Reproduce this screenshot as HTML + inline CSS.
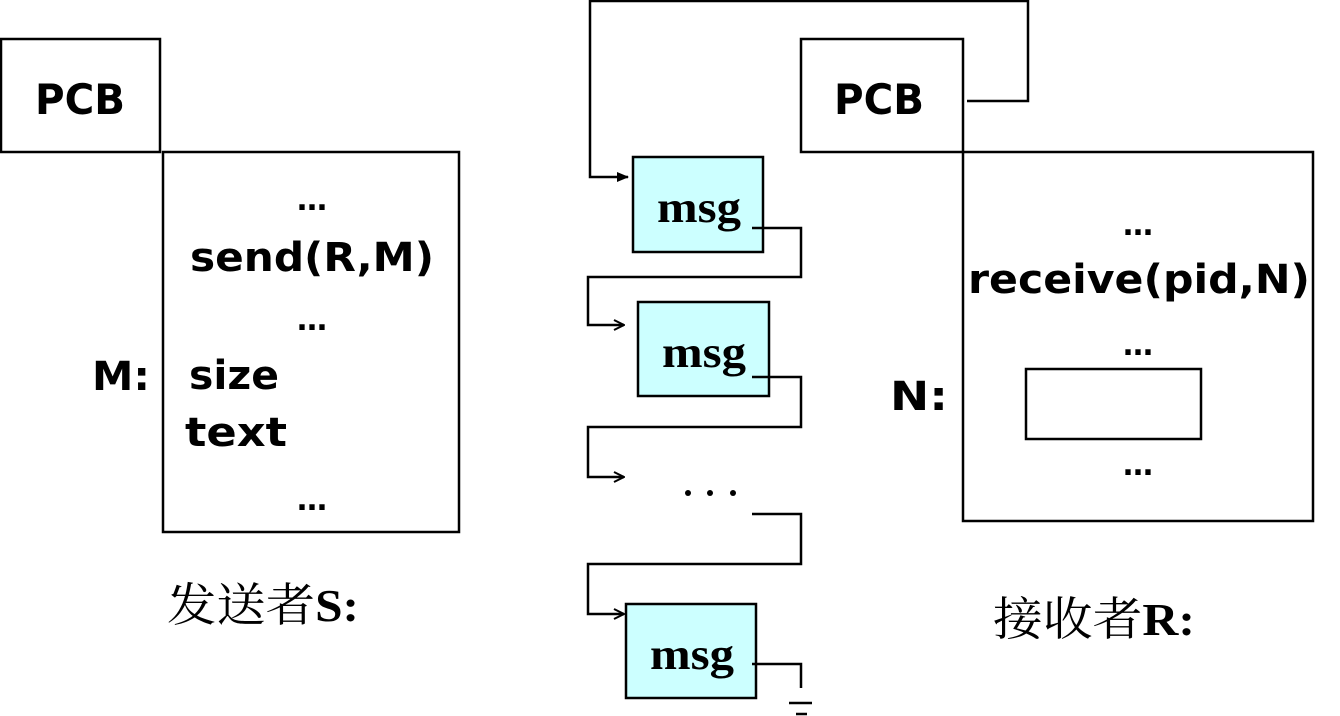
<!DOCTYPE html>
<html><head><meta charset="utf-8"><style>
html,body{margin:0;padding:0;background:#fff;}
svg{display:block;}
.c{font-family:"DejaVu Sans","Liberation Sans",sans-serif;font-weight:bold;fill:#000;}
.t{font-family:"Liberation Serif",serif;font-weight:bold;fill:#000;}
</style></head><body>
<svg width="1340" height="716" viewBox="0 0 1340 716" xmlns="http://www.w3.org/2000/svg">
<defs>
<marker id="a" markerWidth="12" markerHeight="12" refX="11" refY="6" orient="auto" markerUnits="userSpaceOnUse">
<path d="M1,1 L11,6 L1,11" fill="none" stroke="#000" stroke-width="2"/>
</marker>
<marker id="f" markerWidth="12" markerHeight="12" refX="11" refY="6" orient="auto" markerUnits="userSpaceOnUse">
<path d="M0,1 L12,6 L0,11 z" fill="#000"/>
</marker>
</defs>
<g fill="none" stroke="#000" stroke-width="2.5">
<rect x="1" y="39" width="159" height="113"/>
<rect x="163" y="152" width="296" height="380"/>
<rect x="801" y="39" width="162" height="113"/>
<path d="M963 152 H1313 V521 H963 Z"/>
<rect x="1026" y="369" width="175" height="70"/>
</g>
<g fill="#ccffff" stroke="#000" stroke-width="2.5">
<rect x="633" y="157" width="130" height="95"/>
<rect x="638" y="302" width="131" height="94"/>
<rect x="626" y="604" width="130" height="94"/>
</g>
<g fill="none" stroke="#000" stroke-width="2.5">
<path d="M967 101 H1028 V1 H590 V177 H628" marker-end="url(#f)"/>
<path d="M752 228 H801 V277 H588 V325 H624" marker-end="url(#a)"/>
<path d="M752 377 H801 V427 H588 V477 H624" marker-end="url(#a)"/>
<path d="M752 514 H801 V564 H588 V614 H624" marker-end="url(#a)"/>
<path d="M752 664 H801 V688"/>
<path d="M789 703 H812 M796 714 H807"/>
</g>
<g fill="#000"><circle cx="688" cy="493" r="3"/><circle cx="710" cy="493" r="3"/><circle cx="733" cy="493" r="3"/></g>
<text class="c" x="35" y="114" font-size="42" textLength="90" lengthAdjust="spacingAndGlyphs">PCB</text>
<text class="c" x="834" y="114" font-size="42" textLength="90" lengthAdjust="spacingAndGlyphs">PCB</text>
<text class="c" x="297" y="210" font-size="30">…</text>
<text class="c" x="190" y="271" font-size="40" textLength="244" lengthAdjust="spacingAndGlyphs">send(R,M)</text>
<text class="c" x="297" y="330" font-size="30">…</text>
<text class="c" x="92" y="390" font-size="40" textLength="58" lengthAdjust="spacingAndGlyphs">M:</text>
<text class="c" x="189" y="389" font-size="40" textLength="90" lengthAdjust="spacingAndGlyphs">size</text>
<text class="c" x="185" y="446" font-size="40" textLength="102" lengthAdjust="spacingAndGlyphs">text</text>
<text class="c" x="297" y="510" font-size="30">…</text>
<text class="c" x="1123" y="235" font-size="30">…</text>
<text class="c" x="968" y="293" font-size="40" textLength="342" lengthAdjust="spacingAndGlyphs">receive(pid,N)</text>
<text class="c" x="1123" y="355" font-size="30">…</text>
<text class="c" x="890" y="410" font-size="40" textLength="58" lengthAdjust="spacingAndGlyphs">N:</text>
<text class="c" x="1123" y="475" font-size="30">…</text>
<text class="t" x="657" y="222" font-size="44" textLength="84" lengthAdjust="spacingAndGlyphs">msg</text>
<text class="t" x="662" y="367" font-size="44" textLength="84" lengthAdjust="spacingAndGlyphs">msg</text>
<text class="t" x="650" y="669" font-size="44" textLength="84" lengthAdjust="spacingAndGlyphs">msg</text>
<text x="167" y="621" font-size="46" font-family="'Liberation Serif','Noto Serif CJK SC',serif" textLength="192" lengthAdjust="spacingAndGlyphs">发送者<tspan font-weight="bold">S:</tspan></text>
<text x="993" y="635" font-size="46" font-family="'Liberation Serif','Noto Serif CJK SC',serif" textLength="202" lengthAdjust="spacingAndGlyphs">接收者<tspan font-weight="bold">R:</tspan></text>
</svg>
</body></html>
